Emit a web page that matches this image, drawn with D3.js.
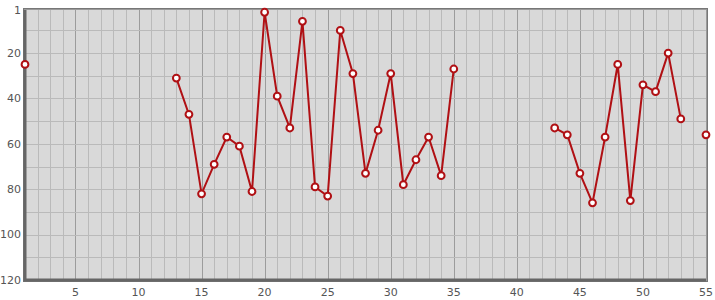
<!DOCTYPE html>
<meta charset="utf-8">
<html>
<style>
  body { margin: 0; background: #fff; }
  .chart text {
    fill: #555;
    font: 11px "DejaVu Sans", sans-serif;
  }
</style>
<script type="text/javascript" src="https://cdnjs.cloudflare.com/ajax/libs/d3/7.8.5/d3.min.js"></script>

<body>
  <svg class="chart"></svg>
</body>
<script>
  var width = 715;
  var height = 300;

  // rank per position, null where there is no value
  var positions = d3.range(1, 56);
  var ranks = [
    25, null, null, null, null, null, null, null, null, null,
    null, null, 31, 47, 82, 69, 57, 61, 81, 2,
    39, 53, 6, 79, 83, 10, 29, 73, 54, 29,
    78, 67, 57, 74, 27, null, null, null, null, null,
    null, null, 53, 56, 73, 86, 57, 25, 85, 34,
    37, 20, 49, null, 56
  ];
  var xTicks = [5, 10, 15, 20, 25, 30, 35, 40, 45, 50, 55];
  var yTicks = [1, 20, 40, 60, 80, 100, 120];
  var yGrid = [10, 20, 30, 40, 50, 60, 70, 80, 90, 100, 110];

  var data = positions.map(function(p, i) {
    return { x: p, y: ranks[i] };
  });

  var plotL = 25, plotR = 706, plotT = 10, plotB = 280;

  var x = d3.scaleLinear().domain([1, 55]).range([plotL, plotR]);
  var y = d3.scaleLinear().domain([1, 120]).range([plotT, plotB]);

  var chart = d3.select(".chart")
    .attr("width", width)
    .attr("height", height);

  chart.append("rect")
    .attr("x", plotL).attr("y", plotT)
    .attr("width", plotR - plotL).attr("height", plotB - plotT)
    .attr("fill", "#d9d9d9");

  // grid
  chart.selectAll(".vgrid")
    .data(d3.range(2, 55))
    .enter().append("line")
    .attr("x1", function(d) { return Math.round(x(d)) + 0.5; })
    .attr("x2", function(d) { return Math.round(x(d)) + 0.5; })
    .attr("y1", plotT).attr("y2", plotB)
    .attr("stroke", function(d) { return d % 5 == 0 ? "#9c9c9c" : "#bababa"; })
    .attr("stroke-width", 1);

  chart.selectAll(".hgrid")
    .data(yGrid)
    .enter().append("line")
    .attr("x1", plotL).attr("x2", plotR)
    .attr("y1", function(d) { return Math.round(y(d)) + 0.5; })
    .attr("y2", function(d) { return Math.round(y(d)) + 0.5; })
    .attr("stroke", "#bababa")
    .attr("stroke-width", 1);

  // frame
  chart.append("rect")
    .attr("x", plotL - 0.5).attr("y", plotT - 0.5)
    .attr("width", plotR - plotL + 1).attr("height", plotB - plotT + 1)
    .attr("fill", "none")
    .attr("stroke", "#9a9a9a")
    .attr("stroke-width", 1);
  chart.append("rect")
    .attr("x", plotL - 1.5).attr("y", plotT - 1.5)
    .attr("width", plotR - plotL + 3).attr("height", plotB - plotT + 3)
    .attr("fill", "none")
    .attr("stroke", "#777")
    .attr("stroke-width", 1);
  chart.append("path")
    .attr("d", "M" + plotL + "," + plotT + "V" + plotB + "H" + plotR)
    .attr("fill", "none")
    .attr("stroke", "#666")
    .attr("stroke-width", 3);

  // tick labels
  chart.selectAll(".ylab")
    .data(yTicks)
    .enter().append("text")
    .attr("x", 21)
    .attr("y", function(d) { return y(d); })
    .attr("dy", ".35em")
    .attr("text-anchor", "end")
    .text(function(d) { return d; });

  chart.selectAll(".xlab")
    .data(xTicks)
    .enter().append("text")
    .attr("x", function(d) { return x(d); })
    .attr("y", 292)
    .attr("dy", ".35em")
    .attr("text-anchor", "middle")
    .text(function(d) { return d; });

  // series
  var line = d3.line()
    .defined(function(d) { return d.y != null; })
    .x(function(d) { return x(d.x); })
    .y(function(d) { return y(d.y); });

  chart.append("path")
    .datum(data)
    .attr("d", line)
    .attr("fill", "none")
    .attr("stroke", "#b01014")
    .attr("stroke-width", 2);

  chart.selectAll(".dot")
    .data(data.filter(function(d) { return d.y != null; }))
    .enter().append("circle")
    .attr("cx", function(d) { return x(d.x); })
    .attr("cy", function(d) { return y(d.y); })
    .attr("r", 3.4)
    .attr("fill", "#fff")
    .attr("stroke", "#b01014")
    .attr("stroke-width", 2);
</script>

</html>
